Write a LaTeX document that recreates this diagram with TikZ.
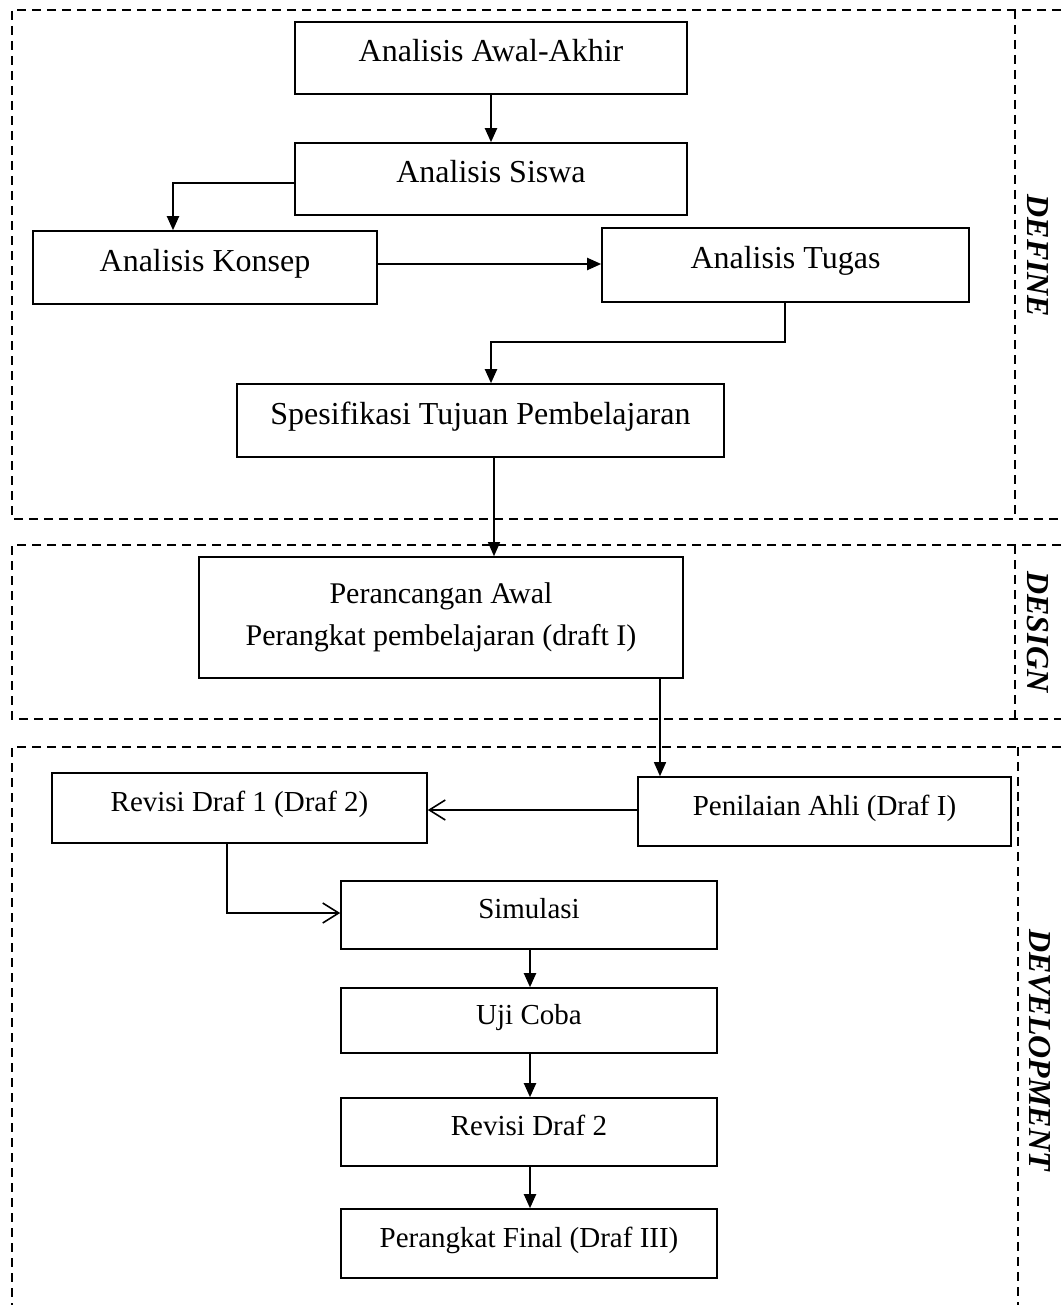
\documentclass[tikz,border=0pt]{standalone}
\usepackage{fontspec}
\setmainfont{Liberation Serif}
\usetikzlibrary{arrows.meta}
\tikzset{
  box/.style={draw, line width=0.8pt, inner sep=0pt, align=center},
  bigtxt/.style={font=\fontsize{16}{19}\selectfont, text height=10pt, text depth=6pt},
  smalltxt/.style={font=\fontsize{14.5}{17}\selectfont, text height=9pt, text depth=5.5pt},
  region/.style={dashed, dash pattern=on 4.5pt off 3pt, line width=0.7pt},
  phase/.style={font=\fontsize{16}{19}\selectfont\bfseries\itshape, rotate=-90},
  conn/.style={line width=1pt, -{Triangle[length=7pt,width=6pt]}},
  thinconn/.style={line width=0.65pt, -{Triangle[length=7pt,width=6pt]}},
  openconn/.style={line width=0.65pt, -{Straight Barb[length=8pt,width=10pt,line width=0.8pt]}},
}
\begin{document}
\begin{tikzpicture}[x=0.5pt, y=-0.5pt]
\useasboundingbox (0,0) rectangle (1061,1305);
% regions
\draw[region] (1061,10) -- (12,10) -- (12,519) -- (1061,519);
\draw[region] (1015,10) -- (1015,519);
\draw[region] (1061,545) -- (12,545) -- (12,719) -- (1061,719);
\draw[region] (1015,545) -- (1015,719);
\draw[region] (1061,747) -- (12,747) -- (12,1305);
\draw[region] (1018,747) -- (1018,1305);
\node[phase] (pdef) at (1038,256) {DEFINE};
\node[phase] (pdes) at (1038,632) {DESIGN};
\node[phase] (pdev) at (1040,1050) {DEVELOPMENT};
% boxes
\node[box,bigtxt,minimum width=196pt,minimum height=36pt] (b1) at (491,58) {Analisis Awal-Akhir};
\node[box,bigtxt,minimum width=196pt,minimum height=36pt] (b2) at (491,179) {Analisis Siswa};
\node[box,bigtxt,minimum width=172pt,minimum height=36.5pt] (b3) at (205,267.5) {Analisis Konsep};
\node[box,bigtxt,minimum width=183.5pt,minimum height=37pt] (b4) at (785.5,265) {Analisis Tugas};
\node[box,bigtxt,minimum width=243.5pt,minimum height=36.5pt] (b5) at (480.5,420.5) {Spesifikasi Tujuan Pembelajaran};
\node[box,font=\fontsize{15}{21}\selectfont,minimum width=242pt,minimum height=60.5pt] (b6) at (441,617.5) {Perancangan Awal\\Perangkat pembelajaran (draft I)};
\node[box,smalltxt,minimum width=186.5pt,minimum height=34.5pt] (b7) at (824.5,811.5) {Penilaian Ahli (Draf I)};
\node[box,smalltxt,minimum width=187.5pt,minimum height=35pt] (b8) at (239.5,808) {Revisi Draf 1 (Draf 2)};
\node[box,smalltxt,minimum width=188pt,minimum height=34pt] (b9) at (529,915) {Simulasi};
\node[box,smalltxt,minimum width=188pt,minimum height=32.5pt] (b10) at (529,1020.5) {Uji Coba};
\node[box,smalltxt,minimum width=188pt,minimum height=34pt] (b11) at (529,1132) {Revisi Draf 2};
\node[box,smalltxt,minimum width=188pt,minimum height=34.5pt] (b12) at (529,1243.5) {Perangkat Final (Draf III)};
% connectors
\draw[conn] (b1.south) -- (b2.north);
\coordinate (c2) at (173,183);
\draw[conn] (b2.west |- c2) -- (c2) -- (c2 |- b3.north);
\coordinate (c3) at (377,264);
\draw[conn] (b3.east |- c3) -- (c3 -| b4.west);
\coordinate (c4a) at (785,342);
\coordinate (c4b) at (491,342);
\draw[conn] (c4a |- b4.south) -- (c4a) -- (c4b) -- (c4b |- b5.north);
\coordinate (c5a) at (494,457);
\coordinate (c5b) at (494,510);
\draw[line width=1.3pt] (c5a |- b5.south) -- (c5b);
\draw[thinconn] (c5b) -- (c5b |- b6.north);
\coordinate (c6) at (660,678);
\draw[thinconn] (c6 |- b6.south) -- (c6 |- b7.north);
\coordinate (c7) at (638,810);
\draw[openconn] (b7.west |- c7) -- (c7 -| b8.east);
\coordinate (c8) at (227,913);
\draw[openconn] (c8 |- b8.south) -- (c8) -- (c8 -| b9.west);
\coordinate (c9) at (530,950);
\draw[conn] (c9 |- b9.south) -- (c9 |- b10.north);
\draw[conn] (c9 |- b10.south) -- (c9 |- b11.north);
\draw[conn] (c9 |- b11.south) -- (c9 |- b12.north);
\end{tikzpicture}
\end{document}
